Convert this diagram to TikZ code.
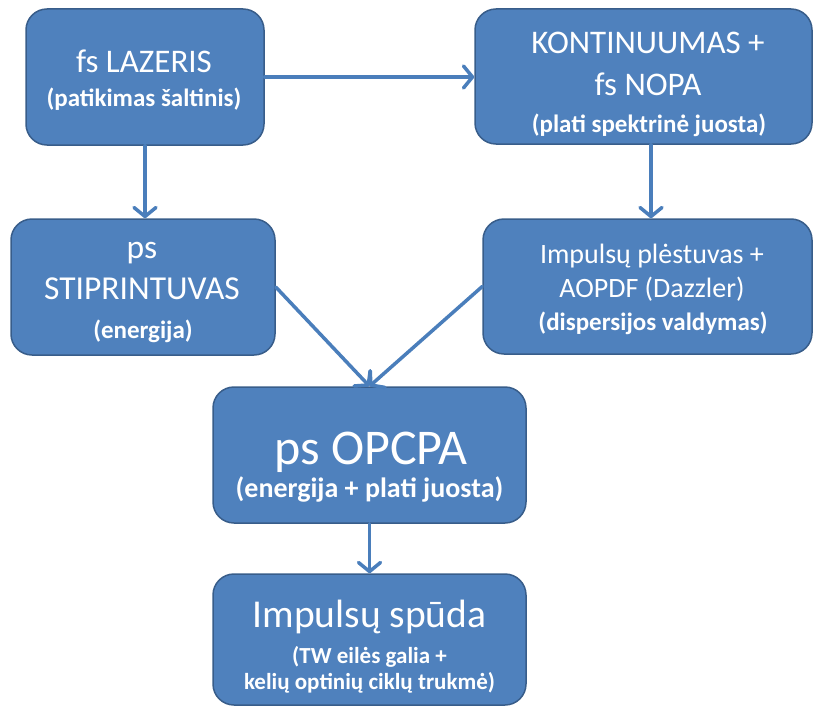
\documentclass[tikz,border=0pt]{standalone}
\usepackage{fontspec}
\setmainfont{Carlito}
\usetikzlibrary{arrows.meta}
\definecolor{boxfill}{HTML}{4F81BD}
\definecolor{boxdraw}{HTML}{385D8A}
\definecolor{arrowcol}{HTML}{4A7EBB}
\begin{document}
\begin{tikzpicture}[x=1pt,y=-1pt,
  box/.style={draw=boxdraw, fill=boxfill, line width=1.5pt, rounded corners=21pt, inner sep=0pt},
  txt/.style={text=white, anchor=base, inner sep=0pt},
  sub/.style={txt, font=\bfseries\fontsize{25}{30}\selectfont},
  flow/.style={draw=arrowcol, line width=3.5pt, line cap=round, -{Straight Barb[round,length=9pt,width=22pt]}}]
\useasboundingbox (0,0) rectangle (813,709);
% boxes
\node[box, minimum width=238pt, minimum height=136pt] (A) at (145,77) {};
\node[box, minimum width=337pt, minimum height=135pt] (B) at (643.5,76.5) {};
\node[box, minimum width=264pt, minimum height=136pt] (C) at (143,287) {};
\node[box, minimum width=329pt, minimum height=135pt] (D) at (647.5,286.5) {};
\node[box, minimum width=313pt, minimum height=136pt] (E) at (369.5,455) {};
\node[box, minimum width=313pt, minimum height=131pt] (F) at (369.5,639.5) {};
% texts
\node[txt, font=\fontsize{33}{40}\selectfont] (a1) at (144,73) {fs LAZERIS};
\node[sub] (a2) at (144,106) {(patikimas šaltinis)};
\node[txt, font=\fontsize{33}{40}\selectfont] (b1) at (648,53) {KONTINUUMAS +};
\node[txt, font=\fontsize{33}{40}\selectfont] (b2) at (648,95) {fs NOPA};
\node[sub] (b3) at (649,132) {(plati spektrinė juosta)};
\node[txt, font=\fontsize{33.5}{40}\selectfont] (c1) at (142,258) {ps};
\node[txt, font=\fontsize{33.5}{40}\selectfont] (c2) at (142,299) {STIPRINTUVAS};
\node[sub] (c3) at (143,338) {(energija)};
\node[txt, font=\fontsize{28}{34}\selectfont] (d1) at (652,263) {Impulsų plėstuvas +};
\node[txt, font=\fontsize{28}{34}\selectfont] (d2) at (652,297) {AOPDF (Dazzler)};
\node[sub] (d3) at (653,330) {(dispersijos valdymas)};
\node[txt, font=\fontsize{50}{60}\selectfont] (e1) at (371,464) {ps OPCPA};
\node[txt, font=\bfseries\fontsize{28}{34}\selectfont] (e2) at (369.5,497) {(energija + plati juosta)};
\node[txt, font=\fontsize{39.5}{47}\selectfont] (f1) at (369.5,627) {Impulsų spūda};
\node[txt, font=\bfseries\fontsize{23}{28}\selectfont] (f2) at (369.5,663) {(TW eilės galia +};
\node[txt, font=\bfseries\fontsize{23}{28}\selectfont] (f3) at (369.5,689) {kelių optinių ciklų trukmė)};
% connectors
\draw[flow] (A.east) -- (A.east -| B.west);
\draw[flow] (A.south) -- (A.south |- C.north);
\draw[flow] ([xshift=7.5pt]B.south) -- ([xshift=7.5pt]B.south |- D.north);
\draw[flow] (C.east) -- (E.north);
\draw[flow] (D.west) -- (E.north);
\draw[flow] (E.south) -- (F.north);
\end{tikzpicture}
\end{document}
